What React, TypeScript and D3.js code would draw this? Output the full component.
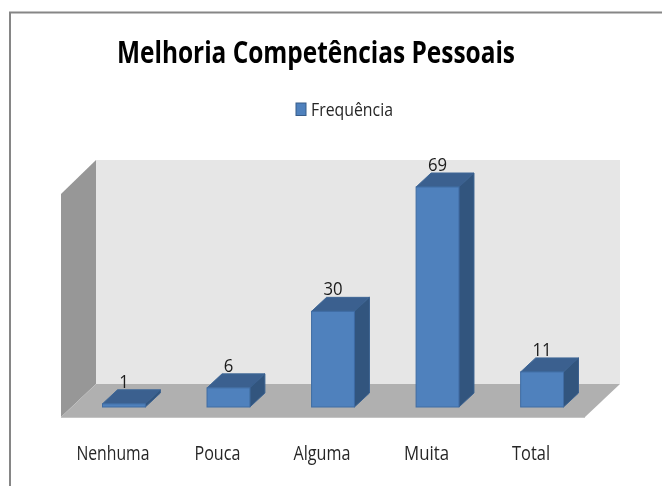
import React from "react";
import * as d3 from "d3";

const categories = ["Nenhuma", "Pouca", "Alguma", "Muita", "Total"];
const values = [1, 6, 30, 69, 11];
const seriesName = "Frequência";
const chartTitle = "Melhoria Competências Pessoais";
const categoryWidths = [73, 46, 57, 45, 38];

const FONT = "'Open Sans', 'Noto Sans', sans-serif";
const DX = 15;
const DY = -14;

export default function App() {
  const x = d3.scaleBand<string>().domain(categories).range([102.5, 563.5]).paddingInner(0.59).paddingOuter(0);
  const y = d3.scaleLinear().domain([0, 69]).range([407, 187]);
  const line = d3.line();
  const poly = (pts: [number, number][]) => line(pts)! + "Z";
  return (
    <svg
      width={662}
      height={486}
      style={{ position: "absolute", left: 0, top: 0, background: "#fff" }}
      fontFamily={FONT}
    >
      <defs>
        <filter id="soft" x="0" y="0" width="100%" height="100%">
          <feGaussianBlur stdDeviation="0.35" />
        </filter>
      </defs>
      <path d="M10,486V12.5H662" fill="none" stroke="#868686" strokeWidth={2} />
      <g filter="url(#soft)">
        <text x={117} y={63} fontSize={29.5} fontWeight={700} fill="#000" textLength={398} lengthAdjust="spacingAndGlyphs">
          {chartTitle}
        </text>
        <rect x={296} y={103} width={10} height={12.5} fill="#4f81bd" stroke="#385d8a" />
        <text x={311} y={116} fontSize={18.5} fill="#262626" textLength={82} lengthAdjust="spacingAndGlyphs">
          {seriesName}
        </text>

        <path d={poly([[96, 160], [620, 160], [620, 384], [96, 384]])} fill="#e6e6e6" />
        <path d={poly([[61, 194], [96, 160], [96, 384], [61, 417]])} fill="#979797" />
        <path d={poly([[61, 417], [96, 384], [620, 384], [585, 417]])} fill="#b0b0b0" />
        <path d="M61,417.5H585" stroke="#c4c4c4" strokeWidth={1} fill="none" />

        {categories.map((c, i) => {
          const x0 = x(c)!;
          const x1 = x0 + x.bandwidth();
          const y0 = y(0);
          const yt = y(values[i]);
          const cx = (x0 + x1) / 2;
          return (
            <g key={c}>
              <path d={poly([[x0, yt], [x1, yt], [x1 + DX, yt + DY], [x0 + DX, yt + DY]])} fill="#3a618f" stroke="#3f6797" strokeWidth={1} />
              <path d={poly([[x1, yt], [x1 + DX, yt + DY], [x1 + DX, y0 + DY], [x1, y0]])} fill="#30547e" stroke="#3a618f" strokeWidth={1} />
              <rect x={x0} y={yt} width={x.bandwidth()} height={y0 - yt} fill="#4f81bd" stroke="#3f6ca3" strokeWidth={1} />
              <text x={cx} y={yt + DY - 2} textAnchor="middle" fontSize={19} fill="#1a1a1a" transform={`translate(${cx * 0.12} 0) scale(0.88 1)`}>
                {values[i]}
              </text>
              <text x={cx - 11} y={460} textAnchor="middle" fontSize={19.5} fill="#262626" textLength={categoryWidths[i]} lengthAdjust="spacingAndGlyphs">
                {c}
              </text>
            </g>
          );
        })}
      </g>
    </svg>
  );
}
